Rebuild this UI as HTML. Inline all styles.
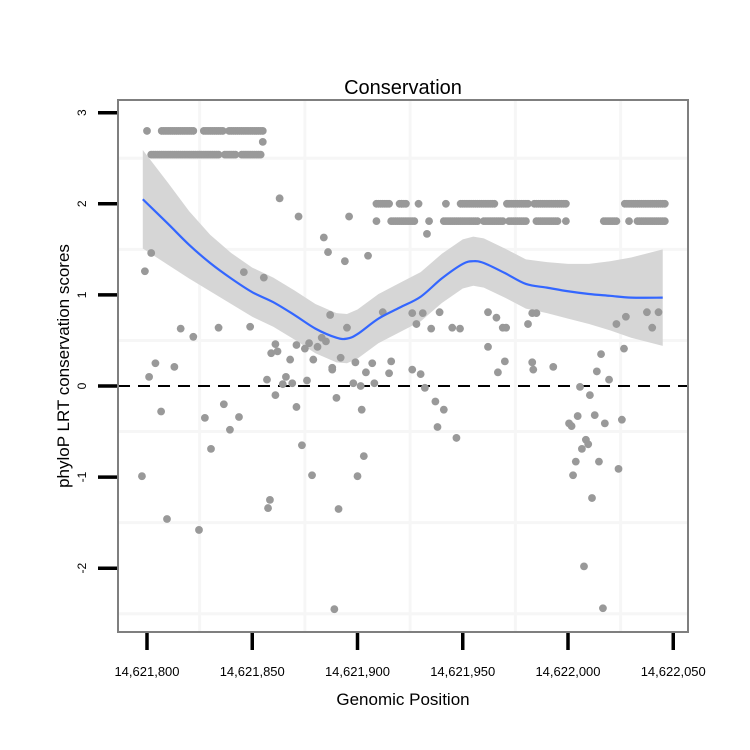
<!DOCTYPE html>
<html><head><meta charset="utf-8"><style>
body{margin:0;background:#fff;}
svg{display:block;font-family:"Liberation Sans",sans-serif;}
</style></head><body>
<svg id="chart" width="750" height="750"></svg>
<script>
// ---- data ----
const xTicks = [14621800, 14621850, 14621900, 14621950, 14622000, 14622050];
const xTickLabels = ["14,621,800","14,621,850","14,621,900","14,621,950","14,622,000","14,622,050"];
const yTicks = [3, 2, 1, 0, -1, -2];
const yTickLabels = ["3","2","1","0","-1","-2"];
const BASE = 14621800;
// scattered points: offsets from 14,621,800 and scores
const scatterX = [63,72,96,84,86,94,105,2,-1,46,55.5,87,112,95,16,22,34,49,83,85,61,71,77,81,75,62,59,4,13,68,79,92,99,107,116,88,
 1,57,66,64.5,69,76,88,104,115,98,101.5,108,61,71,90,6.7,36.5,27.5,43.7,39.4,102,30.4,73.6,103,-2.4,78.4,100,58.4,57.5,91,9.5,24.7,89,
 126,131,139,128,135,145,148.7,162,166,169,170.6,183,185,181,223,227.5,237.5,243,240,162,226.6,215.7,170,183,193,
 126,130,132,166.7,183.5,213.7,219.5,205.7,210.4,137,141,138,147,204.6,212.7,217.5,225.6,200.5,201.7,208.5,209.6,206.6,203.7,214.7,202.4,224,211.4,207.6,216.6,55,133];
const scatterY = [2.06,1.86,1.86,1.63,1.47,1.37,1.43,1.46,1.26,1.25,1.19,0.78,0.81,0.64,0.63,0.54,0.64,0.65,0.53,0.49,0.46,0.45,0.47,0.43,0.41,0.38,0.36,0.25,0.21,0.29,0.29,0.31,0.26,0.25,0.27,0.2,
 0.1,0.07,0.1,0.02,0.03,0.06,0.18,0.15,0.14,0.03,0.0,0.03,-0.1,-0.23,-0.13,-0.28,-0.2,-0.35,-0.34,-0.48,-0.26,-0.69,-0.65,-0.77,-0.99,-0.98,-0.99,-1.25,-1.34,-1.35,-1.46,-1.58,-2.45,
 0.8,0.8,0.81,0.68,0.63,0.64,0.63,0.81,0.75,0.64,0.64,0.8,0.8,0.68,0.68,0.76,0.81,0.81,0.64,0.43,0.41,0.35,0.27,0.26,0.21,
 0.18,0.13,-0.02,0.15,0.18,0.16,0.07,-0.01,-0.1,-0.17,-0.26,-0.45,-0.57,-0.33,-0.32,-0.41,-0.37,-0.41,-0.44,-0.59,-0.64,-0.69,-0.83,-0.83,-0.98,-0.91,-1.23,-1.98,-2.44,2.68,1.67];
// runs of points at repeated score levels: [startOffset, endOffset, score]
const runStart = [0,7,27,39, 2,37,45, 109,121,120,129,142,149,171,184,227, 109,116,134,141,160,172,185,199,217,229,233];
const runEnd   = [0,22,36,55, 34,42,54, 115,121,123,129,142,165,181,199,246, 109,127,134,157,169,180,195,199,223,229,246];
const runScore = [2.8,2.8,2.8,2.8, 2.54,2.54,2.54, 2.0,2.0,2.0,2.0,2.0,2.0,2.0,2.0,2.0, 1.81,1.81,1.81,1.81,1.81,1.81,1.81,1.81,1.81,1.81,1.81];
// loess fit
const fitX  = [-2,10,20,30,40,50,60,70,80,90,95,100,110,120,130,140,150,155,160,170,180,190,200,210,220,230,245];
const fitY  = [2.05,1.78,1.55,1.35,1.18,1.03,0.92,0.78,0.63,0.53,0.52,0.57,0.74,0.86,0.98,1.18,1.34,1.37,1.35,1.24,1.12,1.08,1.04,1.01,0.99,0.97,0.97];
const fitSE = [0.54,0.45,0.37,0.31,0.28,0.27,0.27,0.27,0.27,0.27,0.27,0.27,0.27,0.27,0.27,0.27,0.27,0.27,0.27,0.27,0.27,0.28,0.3,0.33,0.38,0.44,0.53];

// ---- scales ----
const L=118,R=688,T=100,B=632;
const xs = v => 147 + (v-BASE)*2.105;
const xo = o => 147 + o*2.105;
const ys = v => 386 - v*91.1;
const NS="http://www.w3.org/2000/svg";
const svg=document.getElementById('chart');
function mk(tag,attrs,parent){const e=document.createElementNS(NS,tag);for(const k in attrs)e.setAttribute(k,attrs[k]);(parent||svg).appendChild(e);return e;}

// panel
const panel=mk('rect',{x:L,y:T,width:R-L,height:B-T,fill:'#fff'});


// minor grid
const grid=mk('g',{stroke:'#f6f6f6','stroke-width':3});


for(let i=0;i<xTicks.length-1;i++){const gx=(xs(xTicks[i])+xs(xTicks[i+1]))/2;mk('line',{x1:gx,x2:gx,y1:T,y2:B},grid);}
for(let v=2.5;v>-3;v-=1){mk('line',{x1:L,x2:R,y1:ys(v),y2:ys(v)},grid);}

// ribbon
let up='',lo='';
for(let i=0;i<fitX.length;i++){up+=(i?'L':'M')+xo(fitX[i])+','+ys(fitY[i]+fitSE[i]);}
for(let i=fitX.length-1;i>=0;i--){lo+='L'+xo(fitX[i])+','+ys(fitY[i]-fitSE[i]);}
const rib=mk('path',{d:up+lo+'Z',fill:'#d6d6d6'});



// zero line
const zl=mk('line',{x1:L,x2:R,y1:ys(0),y2:ys(0),stroke:'#000','stroke-width':2,'stroke-dasharray':'12,8'});



// points
const pts=mk('g',{fill:'#999999'});


for(let r=0;r<runStart.length;r++){
  for(let o=runStart[r];o<=runEnd[r];o+=1){
    const c=mk('circle',{cx:xo(o),cy:ys(runScore[r]),r:3.9},pts);
    
    
  }
}
for(let i=0;i<scatterX.length;i++){
  const c=mk('circle',{cx:xo(scatterX[i]),cy:ys(scatterY[i]),r:3.9},pts);
  
  
}

// smooth line (catmull-rom)
const P=fitX.map((x,i)=>[xo(x),ys(fitY[i])]);
let d='M'+P[0][0]+','+P[0][1];
for(let i=0;i<P.length-1;i++){
  const p0=P[Math.max(0,i-1)],p1=P[i],p2=P[i+1],p3=P[Math.min(P.length-1,i+2)];
  d+='C'+(p1[0]+(p2[0]-p0[0])/6)+','+(p1[1]+(p2[1]-p0[1])/6)+' '+(p2[0]-(p3[0]-p1[0])/6)+','+(p2[1]-(p3[1]-p1[1])/6)+' '+p2[0]+','+p2[1];
}
const ln=mk('path',{d:d,fill:'none',stroke:'#3366FF','stroke-width':2.2});



// border
const bd=mk('rect',{x:L,y:T,width:R-L,height:B-T,fill:'none',stroke:'#7f7f7f','stroke-width':2});



// x axis
const xa=mk('g',{});


xTicks.forEach((t,i)=>{
  const x=xs(t);
  const tk=mk('line',{x1:x,x2:x,y1:B+1,y2:B+18,stroke:'#000','stroke-width':3.5},xa);
  
  
  const tx=mk('text',{x:x,y:676,'text-anchor':'middle','font-size':13},xa);
  tx.textContent=xTickLabels[i];
  
  
});
// y axis
const ya=mk('g',{});


yTicks.forEach((t,i)=>{
  const y=ys(t);
  const tk=mk('line',{x1:98,x2:L-1,y1:y,y2:y,stroke:'#000','stroke-width':3.5},ya);
  
  
  const tx=mk('text',{x:0,y:0,'text-anchor':'middle','font-size':12,transform:'translate(86,'+y+') rotate(-90)'},ya);
  tx.textContent=yTickLabels[i];
  
  
});

const tt=mk('text',{x:403,y:94,'text-anchor':'middle','font-size':20});
tt.textContent='Conservation';


const xl=mk('text',{x:403,y:705,'text-anchor':'middle','font-size':17});
xl.textContent='Genomic Position';


const yl=mk('text',{x:0,y:0,'text-anchor':'middle','font-size':17,transform:'translate(69,366) rotate(-90)'});
yl.textContent='phyloP LRT conservation scores';


</script>
</body></html>
